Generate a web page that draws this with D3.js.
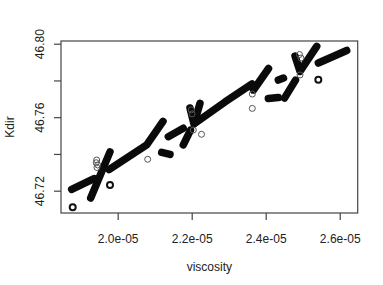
<!DOCTYPE html>
<html>
<head>
<meta charset="utf-8">
<script src="https://cdn.jsdelivr.net/npm/d3@7"></script>
<style>
 body{margin:0;background:#fff;}
 text{font-family:"Liberation Sans",Arial,sans-serif;fill:#222;}
</style>
</head>
<body>
<div id="chart"></div>
<script>
"use strict";
var runs=[
 [[1.8757e-5,46.7207],[1.9360e-5,46.7266]],
 [[1.9270e-5,46.7160],[1.9792e-5,46.7411]],
 [[1.9765e-5,46.7315],[2.0784e-5,46.7449],[2.1224e-5,46.7577]],
 [[2.1189e-5,46.7409],[2.1414e-5,46.7398]],
 [[2.1368e-5,46.7494],[2.1773e-5,46.7540]],
 [[2.1773e-5,46.7449],[2.1968e-5,46.7530]],
 [[2.1954e-5,46.7650],[2.2062e-5,46.7563],[2.2224e-5,46.7675]],
 [[2.2116e-5,46.7571],[2.2900e-5,46.7683],[2.3630e-5,46.7781],[2.3670e-5,46.7748],[2.4076e-5,46.7865]],
 [[2.4070e-5,46.7702],[2.4341e-5,46.7707]],
 [[2.4508e-5,46.7704],[2.4805e-5,46.7802]],
 [[2.4341e-5,46.7802],[2.4481e-5,46.7813]],
 [[2.4792e-5,46.7933],[2.4927e-5,46.7849],[2.5378e-5,46.7985]],
 [[2.5422e-5,46.7895],[2.6189e-5,46.7963]]
];
// repeated single points
var heavyVisc=[1.8784e-5,1.9792e-5,2.5422e-5];
var heavyKdir=[46.7110,46.7231,46.7804];
// single points
var faintVisc=[2.0811e-5,2.2043e-5,2.2265e-5,2.3638e-5,2.3638e-5,2.4927e-5,2.4914e-5,2.4954e-5,1.9432e-5,1.9420e-5,1.9460e-5,1.9440e-5,2.1990e-5,2.2010e-5];
var faintKdir=[46.7371,46.7530,46.7507,46.7648,46.7726,46.7830,46.7941,46.7922,46.7367,46.7352,46.7340,46.7326,46.7640,46.7618];
var xTicks=[2.0e-5,2.2e-5,2.4e-5,2.6e-5];
var yTicks=[46.72,46.74,46.76,46.78,46.80];
var yLabelled=[46.72,46.76,46.80];

var W=383,H=285,L=61,R=357.7,T=41,B=213;
var svg=d3.select("#chart").append("svg").attr("width",W).attr("height",H);
var x=d3.scaleLinear().domain([1.8468e-5,2.6486e-5]).range([L,R]);
var y=d3.scaleLinear().domain([46.70786,46.80147]).range([B,T]);

var g=svg.append("g");
var line=d3.line().x(function(d){return x(d[0]);}).y(function(d){return y(d[1]);});
g.selectAll("path.run").data(runs).join("path").attr("class","run")
 .attr("d",line).attr("fill","none").attr("stroke","#0a0a0a")
 .attr("stroke-width",7.5).attr("stroke-linecap","round").attr("stroke-linejoin","round");
g.selectAll("circle.heavy").data(heavyVisc).join("circle").attr("class","heavy")
 .attr("cx",function(d){return x(d);}).attr("cy",function(d,i){return y(heavyKdir[i]);})
 .attr("r",3).attr("fill","none").attr("stroke","#111").attr("stroke-width",2);
g.selectAll("circle.faint").data(faintVisc).join("circle").attr("class","faint")
 .attr("cx",function(d){return x(d);}).attr("cy",function(d,i){return y(faintKdir[i]);})
 .attr("r",3).attr("fill","none").attr("stroke","#555").attr("stroke-width",1);

// frame
svg.append("rect").attr("x",L).attr("y",T).attr("width",R-L).attr("height",B-T)
 .attr("fill","none").attr("stroke","#444").attr("stroke-width",1.2);

var xa=svg.append("g").attr("transform","translate(0,"+B+")")
 .call(d3.axisBottom(x).tickValues(xTicks).tickSizeOuter(0).tickSize(7).tickPadding(14)
 .tickFormat(function(d){return (d*1e5).toFixed(1)+"e-05";}));
var ya=svg.append("g").attr("transform","translate("+L+",0)")
 .call(d3.axisLeft(y).tickValues(yTicks).tickSizeOuter(0).tickSize(7)
 .tickFormat(function(d){return yLabelled.indexOf(d)>=0?d.toFixed(2):"";}));
[xa,ya].forEach(function(a){
 a.select(".domain").remove();
 a.selectAll("line").attr("stroke","#444").attr("stroke-width",1.2);
 a.selectAll("text").attr("font-size",12).attr("fill","#222")
  .style("font-family","'Liberation Sans',Arial,sans-serif");
});
ya.selectAll("text").attr("x",null).attr("dy",null).attr("text-anchor","middle")
 .attr("transform","translate(-17.5,0) rotate(-90)");

svg.append("text").attr("x",(L+R)/2).attr("y",271).attr("text-anchor","middle")
 .attr("font-size",12).text("viscosity");
svg.append("text").attr("transform","translate(13.5,"+((T+B)/2)+") rotate(-90)")
 .attr("text-anchor","middle").attr("font-size",12).text("Kdir");
</script>
</body>
</html>
